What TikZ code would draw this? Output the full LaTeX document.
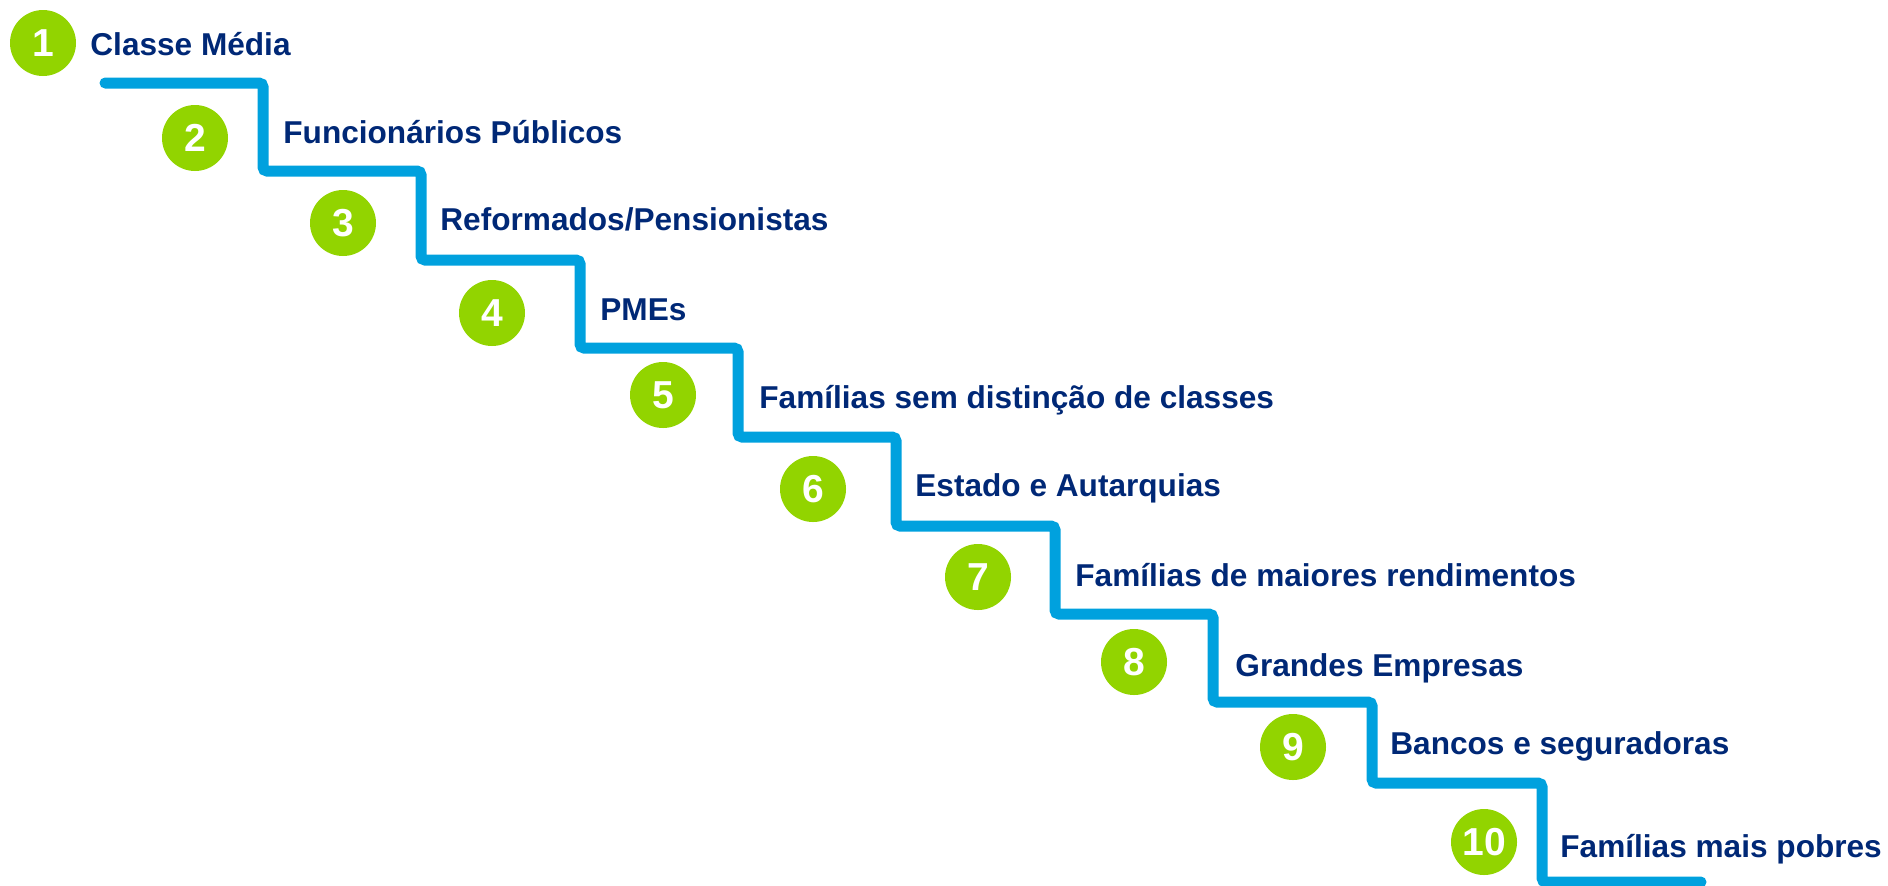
\documentclass[tikz,border=0pt]{standalone}
\usepackage{fontspec}
\setmainfont{Liberation Sans}
\definecolor{stepgreen}{RGB}{146,212,0}
\definecolor{stepblue}{RGB}{0,161,222}
\definecolor{navy}{RGB}{0,40,118}
\begin{document}
\begin{tikzpicture}[x=0.5pt,y=-0.5pt,
  num/.style={circle,fill=stepgreen,minimum size=33pt,inner sep=0pt,text=white,font=\fontsize{19.5}{21}\selectfont\bfseries},
  lbl/.style={anchor=base west,inner sep=0pt,text=navy,font=\fontsize{15.8}{18}\selectfont\bfseries},
  stair/.style={draw=stepblue,line width=5.5pt,rounded corners=2pt,line cap=round}]
\useasboundingbox (0,0) rectangle (1888,885);
\draw[stair] (105,83) -- (263,83) -- (263,171) -- (421,171) -- (421,260) -- (580,260) -- (580,348)
  -- (738,348) -- (738,437) -- (896,437) -- (896,526) -- (1055,526) -- (1055,614) -- (1213,614)
  -- (1213,702) -- (1372,702) -- (1372,783) -- (1542,783) -- (1542,882) -- (1701,882);
\node[num] (c1) at (43,43) {1};
\node[num] (c2) at (195,138) {2};
\node[num] (c3) at (343,223) {3};
\node[num] (c4) at (492,313) {4};
\node[num] (c5) at (663,395) {5};
\node[num] (c6) at (813,489) {6};
\node[num] (c7) at (978,577) {7};
\node[num] (c8) at (1134,662) {8};
\node[num] (c9) at (1293,747) {9};
\node[num] (c10) at (1484,842) {10};
\node[lbl] (t1) at (90,55) {Classe Média};
\node[lbl] (t2) at (283,143) {Funcionários Públicos};
\node[lbl] (t3) at (440,230) {Reformados/Pensionistas};
\node[lbl] (t4) at (600,320) {PMEs};
\node[lbl] (t5) at (759,408) {Famílias sem distinção de classes};
\node[lbl] (t6) at (915,496) {Estado e Autarquias};
\node[lbl] (t7) at (1075,586) {Famílias de maiores rendimentos};
\node[lbl] (t8) at (1235,676) {Grandes Empresas};
\node[lbl] (t9) at (1390,754) {Bancos e seguradoras};
\node[lbl] (t10) at (1560,857) {Famílias mais pobres};
\end{tikzpicture}
\end{document}
